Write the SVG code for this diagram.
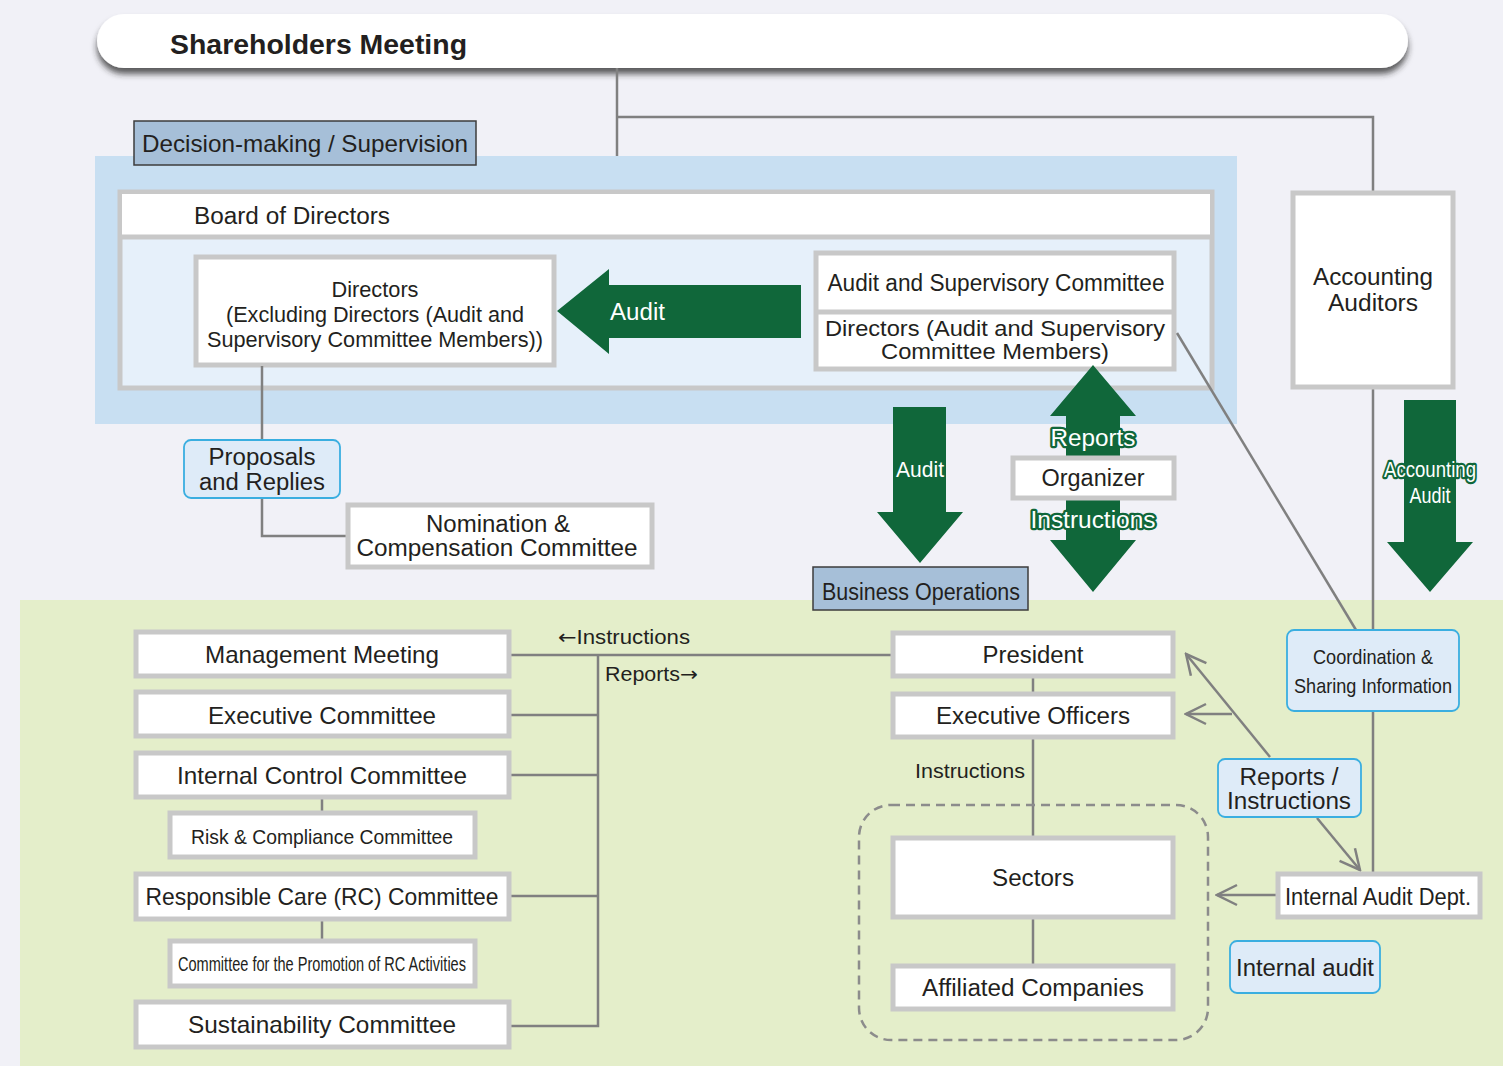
<svg xmlns="http://www.w3.org/2000/svg" width="1503" height="1066" viewBox="0 0 1503 1066">
<defs>
<style>
text{font-family:"Liberation Sans",Arial,sans-serif;fill:#231f20;}
.box{fill:#fff;stroke:#c8c8c8;stroke-width:5;}
.lbl{fill:#deebf8;stroke:#3aaee0;stroke-width:1.8;}
.sec{fill:#a6bfd8;stroke:#3c3c3c;stroke-width:1.5;}
.ln{fill:none;stroke:#808080;stroke-width:2.5;}
.grn{fill:#10673a;}
.w{fill:#fff;}
.halo{fill:#fff;stroke:#10673a;stroke-width:4.5;paint-order:stroke;stroke-linejoin:round;}
.c{text-anchor:middle;}
.ar{font-family:"DejaVu Sans",sans-serif;}
</style>
<marker id="chevL" viewBox="0 0 24 24" refX="22" refY="12" markerWidth="24" markerHeight="24" markerUnits="userSpaceOnUse" orient="auto">
<path d="M2,2 L22,12 L2,22" fill="none" stroke="#808080" stroke-width="2.5"/>
</marker>
<filter id="sh" x="-5%" y="-30%" width="110%" height="180%">
<feDropShadow dx="0" dy="6" stdDeviation="3" flood-color="#2a2a2a" flood-opacity="0.75"/>
</filter>
</defs>

<!-- backgrounds -->
<rect x="0" y="0" width="1503" height="1066" fill="#f1f1f7"/>
<rect x="20" y="600" width="1483" height="466" fill="#e4eeca"/>
<rect x="95" y="156" width="1142" height="268" fill="#c8dff2"/>

<!-- Shareholders Meeting -->
<g id="shareholders">
<rect x="97" y="14" width="1311" height="54" rx="27" fill="#fff" filter="url(#sh)"/>
<text x="170" y="54" font-size="28" font-weight="bold" textLength="297" lengthAdjust="spacingAndGlyphs">Shareholders Meeting</text>
</g>

<g id="decision-label">
<rect class="sec" x="134" y="121" width="342" height="44"/>
<text x="142" y="152" font-size="24" textLength="326" lengthAdjust="spacingAndGlyphs">Decision-making / Supervision</text>
</g>

<g id="board">
<rect x="120" y="192" width="1092" height="196" fill="#e6f0fa" stroke="#c8c8c8" stroke-width="5"/>
<rect x="122" y="194" width="1088" height="42" fill="#fff"/>
<line x1="120" y1="237" x2="1212" y2="237" stroke="#c8c8c8" stroke-width="5"/>
<text x="194" y="224" font-size="23" textLength="196" lengthAdjust="spacingAndGlyphs">Board of Directors</text>
</g>

<g id="directors">
<rect class="box" x="196" y="257" width="358" height="108"/>
<text class="c" x="375" y="297" font-size="22" textLength="87" lengthAdjust="spacingAndGlyphs">Directors</text>
<text class="c" x="375" y="322" font-size="22" textLength="298" lengthAdjust="spacingAndGlyphs">(Excluding Directors (Audit and</text>
<text class="c" x="375" y="347" font-size="22" textLength="336" lengthAdjust="spacingAndGlyphs">Supervisory Committee Members))</text>
</g>

<g id="audit-committee">
<rect class="box" x="816" y="253" width="358" height="116"/>
<line x1="816" y1="312" x2="1174" y2="312" stroke="#c8c8c8" stroke-width="5"/>
<text class="c" x="996" y="291" font-size="23" textLength="337" lengthAdjust="spacingAndGlyphs">Audit and Supervisory Committee</text>
<text class="c" x="995" y="336" font-size="21.5" textLength="340" lengthAdjust="spacingAndGlyphs">Directors (Audit and Supervisory</text>
<text class="c" x="995" y="359" font-size="21.5" textLength="228" lengthAdjust="spacingAndGlyphs">Committee Members)</text>
</g>

<!-- connectors -->
<g id="connectors">
<polyline class="ln" points="617,68 617,156"/>
<polyline class="ln" points="617,117 1373,117 1373,192"/>
<polyline class="ln" points="1373,388 1373,872"/>
<polyline class="ln" points="1177,333 1356,630"/>
<polyline class="ln" points="262,366 262,440"/>
<polyline class="ln" points="262,498 262,536 347,536"/>
<polyline class="ln" points="511,655 891,655"/>
<polyline class="ln" points="598,655 598,1026 511,1026"/>
<line class="ln" x1="511" y1="715" x2="598" y2="715"/>
<line class="ln" x1="511" y1="775" x2="598" y2="775"/>
<line class="ln" x1="511" y1="896" x2="598" y2="896"/>
<line class="ln" x1="322" y1="799" x2="322" y2="811"/>
<line class="ln" x1="322" y1="921" x2="322" y2="939"/>
<line class="ln" x1="1033" y1="677" x2="1033" y2="692"/>
<line class="ln" x1="1033" y1="738" x2="1033" y2="836"/>
<line class="ln" x1="1033" y1="918" x2="1033" y2="964"/>
<path d="M1270,757 L1186,654" fill="none" stroke="#808080" stroke-width="2.5" marker-end="url(#chevL)"/>
<path d="M1232,714 L1186,714" fill="none" stroke="#808080" stroke-width="2.5" marker-end="url(#chevL)"/>
<path d="M1317,818 L1360,870" fill="none" stroke="#808080" stroke-width="2.5" marker-end="url(#chevL)"/>
<path d="M1277,895 L1217,895" fill="none" stroke="#808080" stroke-width="2.5" marker-end="url(#chevL)"/>
</g>

<g id="audit-left-arrow">
<path class="grn" d="M801,285 L609,285 L609,269 L557,311 L609,354 L609,338 L801,338 Z"/>
<text class="w" x="610" y="320" font-size="23" textLength="55" lengthAdjust="spacingAndGlyphs">Audit</text>
</g>

<g id="accounting-auditors">
<rect class="box" x="1293" y="193" width="160" height="194"/>
<text class="c" x="1373" y="285" font-size="23" textLength="120" lengthAdjust="spacingAndGlyphs">Accounting</text>
<text class="c" x="1373" y="311" font-size="23" textLength="90" lengthAdjust="spacingAndGlyphs">Auditors</text>
</g>

<g id="audit-down-arrow">
<path class="grn" d="M893,407 L946,407 L946,512 L963,512 L920,563 L877,512 L893,512 Z"/>
<text class="c w" x="920" y="477" font-size="22" textLength="48" lengthAdjust="spacingAndGlyphs">Audit</text>
</g>

<g id="reports-instructions-arrow">
<path class="grn" d="M1093,365 L1136,416 L1120,416 L1120,540 L1136,540 L1093,592 L1050,540 L1066,540 L1066,416 L1050,416 Z"/>
<text class="c halo" x="1093" y="446" font-size="23" textLength="85" lengthAdjust="spacingAndGlyphs">Reports</text>
<text class="c halo" x="1093" y="528" font-size="23" textLength="125" lengthAdjust="spacingAndGlyphs">Instructions</text>
</g>

<g id="organizer">
<rect class="box" x="1013" y="458" width="161" height="40"/>
<text class="c" x="1093" y="486" font-size="23" textLength="103" lengthAdjust="spacingAndGlyphs">Organizer</text>
</g>

<g id="accounting-audit-arrow">
<path class="grn" d="M1404,400 L1456,400 L1456,542 L1473,542 L1430,592 L1387,542 L1404,542 Z"/>
<text class="c halo" x="1430" y="477" font-size="22" textLength="92" lengthAdjust="spacingAndGlyphs">Accounting</text>
<text class="c halo" x="1430" y="503" font-size="22" textLength="41" lengthAdjust="spacingAndGlyphs">Audit</text>
</g>

<g id="proposals">
<rect class="lbl" x="184" y="440" width="156" height="58" rx="7"/>
<text class="c" x="262" y="465" font-size="23" textLength="107" lengthAdjust="spacingAndGlyphs">Proposals</text>
<text class="c" x="262" y="490" font-size="23" textLength="126" lengthAdjust="spacingAndGlyphs">and Replies</text>
</g>

<g id="nomination">
<rect class="box" x="348" y="505" width="304" height="62"/>
<text class="c" x="498" y="532" font-size="23" textLength="144" lengthAdjust="spacingAndGlyphs">Nomination &amp;</text>
<text class="c" x="497" y="556" font-size="23" textLength="281" lengthAdjust="spacingAndGlyphs">Compensation Committee</text>
</g>

<g id="business-operations">
<rect class="sec" x="813" y="567" width="215" height="43"/>
<text class="c" x="921" y="600" font-size="23" textLength="198" lengthAdjust="spacingAndGlyphs">Business Operations</text>
</g>

<g id="coordination">
<rect class="lbl" x="1287" y="630" width="172" height="81" rx="7"/>
<text class="c" x="1373" y="664" font-size="21" textLength="120" lengthAdjust="spacingAndGlyphs">Coordination &amp;</text>
<text class="c" x="1373" y="693" font-size="21" textLength="158" lengthAdjust="spacingAndGlyphs">Sharing Information</text>
</g>

<!-- left column -->
<g id="management-meeting">
<rect class="box" x="136" y="632" width="373" height="44"/>
<text class="c" x="322" y="663" font-size="24" textLength="234" lengthAdjust="spacingAndGlyphs">Management Meeting</text>
</g>
<g id="executive-committee">
<rect class="box" x="136" y="692" width="373" height="44"/>
<text class="c" x="322" y="724" font-size="24" textLength="228" lengthAdjust="spacingAndGlyphs">Executive Committee</text>
</g>
<g id="internal-control">
<rect class="box" x="136" y="753" width="373" height="44"/>
<text class="c" x="322" y="784" font-size="24" textLength="290" lengthAdjust="spacingAndGlyphs">Internal Control Committee</text>
</g>
<g id="risk-compliance">
<rect class="box" x="170" y="813" width="305" height="44"/>
<text class="c" x="322" y="844" font-size="21" textLength="262" lengthAdjust="spacingAndGlyphs">Risk &amp; Compliance Committee</text>
</g>
<g id="responsible-care">
<rect class="box" x="136" y="874" width="373" height="45"/>
<text class="c" x="322" y="905" font-size="24" textLength="353" lengthAdjust="spacingAndGlyphs">Responsible Care (RC) Committee</text>
</g>
<g id="rc-promotion">
<rect class="box" x="170" y="941" width="305" height="45"/>
<text class="c" x="322" y="971" font-size="20" textLength="288" lengthAdjust="spacingAndGlyphs">Committee for the Promotion of RC Activities</text>
</g>
<g id="sustainability">
<rect class="box" x="136" y="1002" width="373" height="45"/>
<text class="c" x="322" y="1033" font-size="24" textLength="268" lengthAdjust="spacingAndGlyphs">Sustainability Committee</text>
</g>

<g id="line-labels">
<text x="558" y="644" font-size="20" textLength="132" lengthAdjust="spacingAndGlyphs"><tspan class="ar" font-size="20">←</tspan>Instructions</text>
<text x="605" y="681" font-size="20" textLength="93" lengthAdjust="spacingAndGlyphs">Reports<tspan class="ar" font-size="20">→</tspan></text>
<text class="c" x="970" y="778" font-size="20" textLength="110" lengthAdjust="spacingAndGlyphs">Instructions</text>
</g>

<!-- right column -->
<g id="president">
<rect class="box" x="893" y="633" width="280" height="43"/>
<text class="c" x="1033" y="663" font-size="23" textLength="101" lengthAdjust="spacingAndGlyphs">President</text>
</g>
<g id="executive-officers">
<rect class="box" x="893" y="694" width="280" height="43"/>
<text class="c" x="1033" y="724" font-size="23" textLength="194" lengthAdjust="spacingAndGlyphs">Executive Officers</text>
</g>

<g id="group-companies">
<rect x="859" y="805" width="349" height="235" rx="32" fill="none" stroke="#8c8c8c" stroke-width="2.5" stroke-dasharray="9,6"/>
</g>
<g id="sectors">
<rect class="box" x="893" y="838" width="280" height="79"/>
<text class="c" x="1033" y="886" font-size="23" textLength="82" lengthAdjust="spacingAndGlyphs">Sectors</text>
</g>
<g id="affiliated">
<rect class="box" x="893" y="966" width="280" height="43"/>
<text class="c" x="1033" y="996" font-size="23" textLength="222" lengthAdjust="spacingAndGlyphs">Affiliated Companies</text>
</g>

<g id="reports-instructions-label">
<rect class="lbl" x="1218" y="759" width="143" height="58" rx="7"/>
<text class="c" x="1289" y="785" font-size="23" textLength="99" lengthAdjust="spacingAndGlyphs">Reports /</text>
<text class="c" x="1289" y="809" font-size="23" textLength="124" lengthAdjust="spacingAndGlyphs">Instructions</text>
</g>

<g id="internal-audit-dept">
<rect class="box" x="1278" y="874" width="202" height="43"/>
<text class="c" x="1378" y="905" font-size="23" textLength="186" lengthAdjust="spacingAndGlyphs">Internal Audit Dept.</text>
</g>

<g id="internal-audit-label">
<rect class="lbl" x="1230" y="941" width="150" height="52" rx="7"/>
<text class="c" x="1305" y="976" font-size="23" textLength="138" lengthAdjust="spacingAndGlyphs">Internal audit</text>
</g>
</svg>
